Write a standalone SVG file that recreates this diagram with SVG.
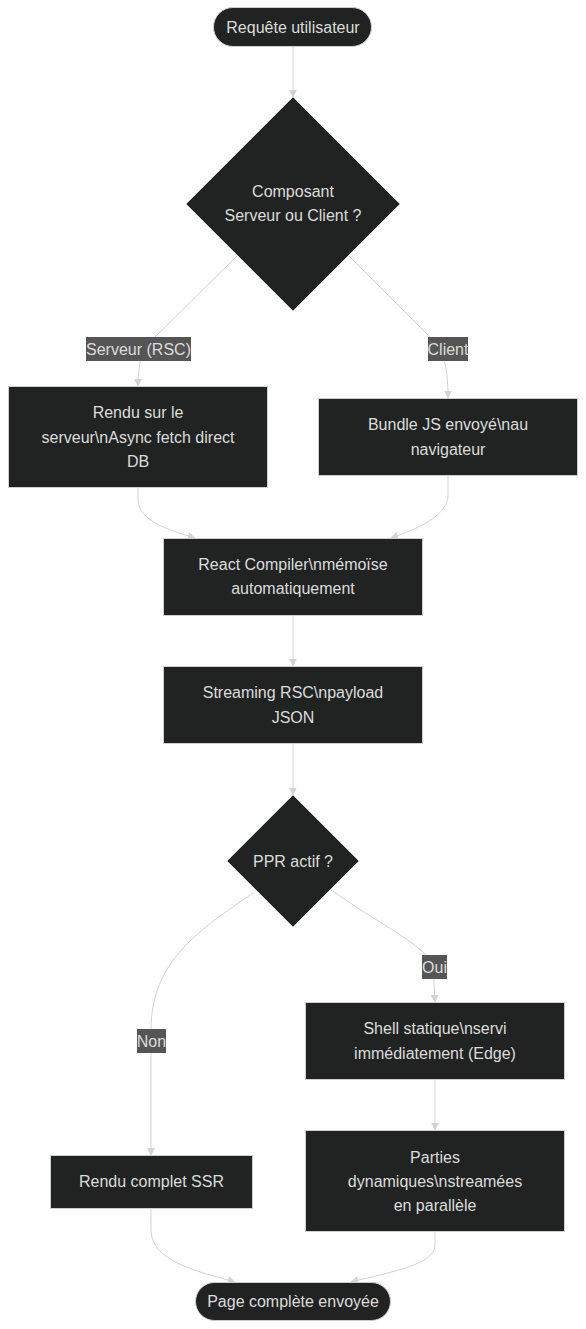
<svg xmlns="http://www.w3.org/2000/svg" width="586" height="1329" viewBox="0 0 586 1329">
<defs>
<marker id="arr" viewBox="0 0 10 10" refX="9" refY="5" markerWidth="8" markerHeight="8" markerUnits="userSpaceOnUse" orient="auto">
<path d="M0,0 L10,5 L0,10 z" fill="#d3d3d3"/>
</marker>
<style>
.n{fill:#212322;stroke:#cfcfcf;stroke-width:1}
.t{font-family:"Liberation Sans",Arial,sans-serif;font-size:16px;fill:#dcdcdc;text-anchor:middle;dominant-baseline:central}
.e{fill:none;stroke:#d3d3d3;stroke-width:1}
.lb{fill:#555555}
.lt{font-family:"Liberation Sans",Arial,sans-serif;font-size:16px;fill:#dcdcdc;text-anchor:middle;dominant-baseline:central}
</style>
</defs>
<rect width="586" height="1329" fill="#ffffff"/>
<g id="edges">
<path class="e" d="M293,46 L293,97" marker-end="url(#arr)"/>
<path class="e" d="M237,256 L155,337 C142,350 138,362 138,386" marker-end="url(#arr)"/>
<path class="e" d="M349,256 L430,337 C444,352 448,366 448,398" marker-end="url(#arr)"/>
<path class="e" d="M138,487 L138,500 C138,520 168,530 195,538" marker-end="url(#arr)"/>
<path class="e" d="M448,476 L448,495 C448,515 420,528 391,538" marker-end="url(#arr)"/>
<path class="e" d="M293,616 L293,666" marker-end="url(#arr)"/>
<path class="e" d="M293,744 L293,795" marker-end="url(#arr)"/>
<path class="e" d="M333,891 C380,925 425,945 433,965 L435,1002" marker-end="url(#arr)"/>
<path class="e" d="M253,893 C200,930 151,960 151,1030 L151,1155" marker-end="url(#arr)"/>
<path class="e" d="M435,1079 L435,1130" marker-end="url(#arr)"/>
<path class="e" d="M151,1208 L151,1230 C151,1262 200,1272 235,1282" marker-end="url(#arr)"/>
<path class="e" d="M435,1231 L435,1245 C435,1265 390,1272 351,1282" marker-end="url(#arr)"/>
<rect class="lb" x="86" y="337" width="105" height="24"/>
<text class="lt" x="138.5" y="349">Serveur (RSC)</text>
<rect class="lb" x="428" y="337" width="40" height="24"/>
<text class="lt" x="448" y="349">Client</text>
<rect class="lb" x="422" y="955" width="25" height="24"/>
<text class="lt" x="434.5" y="967">Oui</text>
<rect class="lb" x="137" y="1029" width="29" height="24"/>
<text class="lt" x="151.5" y="1041">Non</text>
</g>
<g id="start">
<rect class="n" x="213.5" y="7.5" width="158" height="39" rx="19.5"/>
<text class="t" x="293" y="27">Requête utilisateur</text>
</g>
<g id="decision1">
<polygon class="n" points="293,97 400,204 293,311 186,204"/>
<text class="t" x="293" y="191">Composant</text>
<text class="t" x="293" y="215">Serveur ou Client ?</text>
</g>
<g id="rendu">
<rect class="n" x="8.5" y="386.5" width="259" height="101"/>
<text class="t" x="138" y="412">Rendu sur le</text>
<text class="t" x="138" y="437">serveur\nAsync fetch direct</text>
<text class="t" x="138" y="461">DB</text>
</g>
<g id="bundle">
<rect class="n" x="318.5" y="398.5" width="259" height="77"/>
<text class="t" x="448" y="424">Bundle JS envoyé\nau</text>
<text class="t" x="448" y="449">navigateur</text>
</g>
<g id="compiler">
<rect class="n" x="163.5" y="538.5" width="259" height="77"/>
<text class="t" x="293" y="564">React Compiler\nmémoïse</text>
<text class="t" x="293" y="588">automatiquement</text>
</g>
<g id="streaming">
<rect class="n" x="163.5" y="666.5" width="259" height="77"/>
<text class="t" x="293" y="692">Streaming RSC\npayload</text>
<text class="t" x="293" y="717">JSON</text>
</g>
<g id="decision2">
<polygon class="n" points="293,795 359,861 293,927 227,861"/>
<text class="t" x="293" y="861">PPR actif ?</text>
</g>
<g id="shell">
<rect class="n" x="305.5" y="1002.5" width="259" height="77"/>
<text class="t" x="435" y="1028">Shell statique\nservi</text>
<text class="t" x="435" y="1053">immédiatement (Edge)</text>
</g>
<g id="ssr">
<rect class="n" x="50.5" y="1155.5" width="202" height="53"/>
<text class="t" x="151.5" y="1181">Rendu complet SSR</text>
</g>
<g id="parties">
<rect class="n" x="305.5" y="1130.5" width="259" height="101"/>
<text class="t" x="435" y="1157">Parties</text>
<text class="t" x="435" y="1181">dynamiques\nstreamées</text>
<text class="t" x="435" y="1205">en parallèle</text>
</g>
<g id="end">
<rect class="n" x="195.5" y="1282.5" width="195" height="38" rx="19"/>
<text class="t" x="293" y="1301">Page complète envoyée</text>
</g>
</svg>
